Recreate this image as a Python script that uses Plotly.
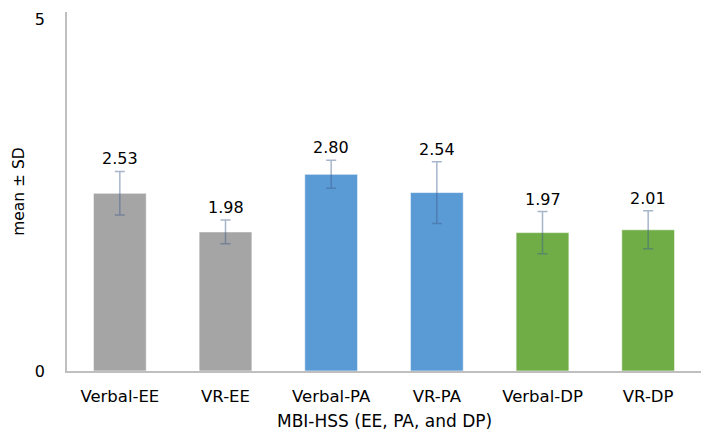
import plotly.graph_objects as go

categories = ["Verbal-EE", "VR-EE", "Verbal-PA", "VR-PA", "Verbal-DP", "VR-DP"]
means = [2.53, 1.98, 2.80, 2.54, 1.97, 2.01]
sds = [0.31, 0.17, 0.20, 0.44, 0.30, 0.27]
labels = ["2.53", "1.98", "2.80", "2.54", "1.97", "2.01"]
colors = ["#a5a5a5", "#a5a5a5", "#5b9bd5", "#5b9bd5", "#70ad47", "#70ad47"]
x_title = "MBI-HSS (EE, PA, and DP)"
y_title = "mean ± SD"

FONT = "DejaVu Sans"

fig = go.Figure()
fig.add_trace(go.Bar(
    x=categories, y=means,
    marker=dict(color=colors, line=dict(color="rgba(255,255,255,0.6)", width=1)),
    width=0.5,
    error_y=dict(type="data", array=sds, visible=True,
                 color="rgba(60,90,140,0.45)", thickness=1.5, width=5),
    hoverinfo="skip",
))
for c, m, s, lab in zip(categories, means, sds, labels):
    fig.add_annotation(x=c, y=m + s, text=lab, showarrow=False,
                       yanchor="bottom", yshift=1,
                       font=dict(family=FONT, size=16, color="#000000"))

fig.add_annotation(x=0.5, y=0, xref="paper", yref="paper", text=x_title,
                   showarrow=False, xanchor="center", yanchor="middle", yshift=-50,
                   font=dict(family=FONT, size=17, color="#000000"))

fig.update_layout(
    width=701, height=439,
    margin=dict(l=67, r=0, t=12, b=68),
    paper_bgcolor="white", plot_bgcolor="white",
    showlegend=False,
    font=dict(family=FONT, size=16, color="#000000"),
    xaxis=dict(
        range=[-0.5, 5.5], showline=True, linecolor="#bfbfbf", linewidth=1.5,
        ticks="outside", ticklen=9, tickcolor="rgba(0,0,0,0)",
        showgrid=False, tickfont=dict(family=FONT, size=16.5), automargin=False,
    ),
    yaxis=dict(
        range=[0, 5.11], tickvals=[0, 5], ticktext=["0", "5"],
        showline=True, linecolor="#bfbfbf", linewidth=1.5,
        showgrid=False, zeroline=False,
        ticks="outside", ticklen=17, tickcolor="rgba(0,0,0,0)",
        tickfont=dict(family=FONT, size=16), automargin=False,
        title=dict(text=y_title, font=dict(family=FONT, size=15.5), standoff=6),
    ),
)

fig.write_html("out.html", config={"displayModeBar": False},
               post_script="document.body.style.margin='0';document.body.style.overflow='hidden';")
